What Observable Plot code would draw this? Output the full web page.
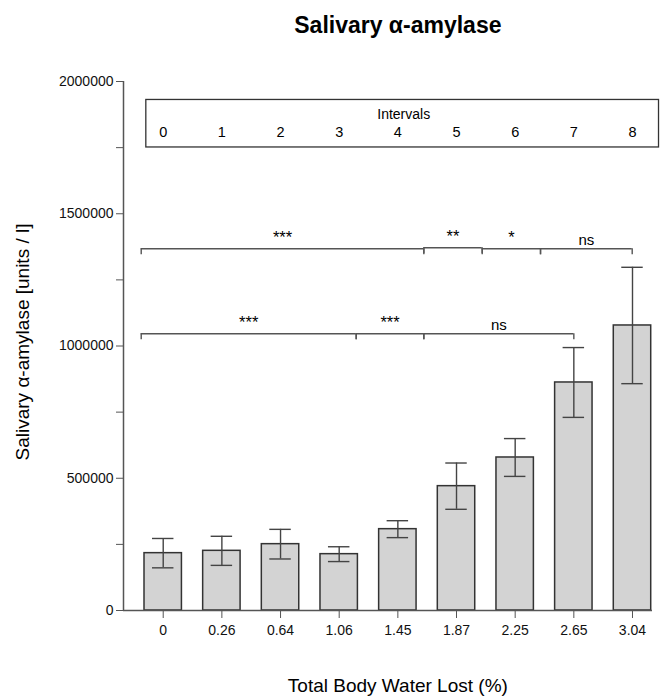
<!DOCTYPE html>
<html><head><meta charset="utf-8">
<script src="https://cdn.jsdelivr.net/npm/d3@7"></script>
<script src="https://cdn.jsdelivr.net/npm/@observablehq/plot@0.6"></script>
<style>
body{margin:0;background:#fff;}
</style>
</head><body><div id="chart"></div>
<script>
// ---- data ----
const waterLost = ["0", "0.26", "0.64", "1.06", "1.45", "1.87", "2.25", "2.65", "3.04"];
const amylaseMean = [216800, 225600, 250800, 213000, 307500, 470100, 578500, 862100, 1077600];
const amylaseErr = [55500, 55000, 56000, 28000, 32000, 87500, 71500, 132000, 220000];
const intervalLabels = ["0", "1", "2", "3", "4", "5", "6", "7", "8"];
const yTicks = [0, 500000, 1000000, 1500000, 2000000];
const yMinorTicks = [250000, 750000, 1250000, 1750000];
// significance brackets (bar-index units)
const bracketFrom = [-0.375, 4.443, 5.438, 6.432, -0.375, 3.29, 4.443];
const bracketTo = [4.443, 5.438, 6.432, 7.995, 3.29, 4.443, 7.0];
const bracketLevel = [1367600, 1371400, 1367600, 1367600, 1046200, 1046200, 1046200];
const bracketLabel = ["***", "**", "*", "ns", "***", "***", "ns"];

const bars = waterLost.map((w, i) => ({i, w, mean: amylaseMean[i], err: amylaseErr[i]}));
const brackets = bracketFrom.map((f, k) => ({from: f, to: bracketTo[k], level: bracketLevel[k], label: bracketLabel[k]}));
const bracketEnds = brackets.flatMap(b => [{x: b.from, level: b.level}, {x: b.to, level: b.level}]);

const halfBar = 0.319, halfCap = 0.183, bracketDrop = 22700;
const xDomain = [-0.677, 8.341];
const axisColor = "#555";

const chart = Plot.plot({
  width: 661,
  height: 698,
  marginLeft: 123,
  marginRight: 9,
  marginTop: 81,
  marginBottom: 88,
  style: {fontFamily: "'Liberation Sans', Arial, sans-serif", fontSize: "14px", background: "#fff", color: "#000"},
  x: {type: "linear", domain: xDomain, axis: null},
  y: {domain: [0, 2000000], axis: null},
  marks: [
    // intervals box
    Plot.rect([0], {x1: -0.288, x2: 8.452, y1: 1750600, y2: 1930200, fill: "white", stroke: "#333", strokeWidth: 1.3}),
    Plot.text(["Intervals"], {x: 4.1, y: 1876000, fontSize: 14, fill: "#000"}),
    Plot.text(intervalLabels, {x: (d, i) => i, y: 1806000, fontSize: 14.5, fill: "#000"}),
    // bars
    Plot.rect(bars, {x1: d => d.i - halfBar, x2: d => d.i + halfBar, y1: 0, y2: "mean", fill: "#d3d3d3", stroke: "#333", strokeWidth: 1.5}),
    // error bars
    Plot.ruleX(bars, {x: "i", y1: d => d.mean - d.err, y2: d => d.mean + d.err, stroke: "#444", strokeWidth: 1.4}),
    Plot.ruleY(bars, {y: d => d.mean + d.err, x1: d => d.i - halfCap, x2: d => d.i + halfCap, stroke: "#444", strokeWidth: 1.4}),
    Plot.ruleY(bars, {y: d => d.mean - d.err, x1: d => d.i - halfCap, x2: d => d.i + halfCap, stroke: "#444", strokeWidth: 1.4}),
    // brackets
    Plot.ruleY(brackets, {y: "level", x1: "from", x2: "to", stroke: "#555", strokeWidth: 1.4}),
    Plot.ruleX(bracketEnds, {x: "x", y1: "level", y2: d => d.level - bracketDrop, stroke: "#555", strokeWidth: 1.4}),
    Plot.text(brackets.filter(b => b.label !== "ns"), {x: d => (d.from + d.to) / 2, y: "level", text: "label", lineAnchor: "bottom", dy: -6, fontSize: 16.5, fill: "#000"}),
    Plot.text(brackets.filter(b => b.label === "ns"), {x: d => (d.from + d.to) / 2, y: "level", text: "label", lineAnchor: "bottom", dy: -4, fontSize: 15, fill: "#000"}),
    // axes
    Plot.ruleX([xDomain[0]], {stroke: axisColor, strokeWidth: 1.5}),
    Plot.ruleY([0], {stroke: axisColor, strokeWidth: 1.5}),
    Plot.axisY({ticks: yTicks, tickSize: 7, tickPadding: 3, tickFormat: d => String(d), label: null, stroke: axisColor, fill: "#111", fontSize: 14}),
    Plot.axisY({ticks: yMinorTicks, tickSize: 7, tickFormat: () => "", label: null, stroke: axisColor}),
    Plot.axisX({ticks: d3.range(waterLost.length), tickSize: 8, tickPadding: 7, tickFormat: i => waterLost[i], label: null, stroke: axisColor, fill: "#111", fontSize: 14}),
    // titles
    Plot.text(["Salivary α-amylase"], {x: 4, frameAnchor: "top", dy: -49, lineAnchor: "bottom", fontSize: 23, fontWeight: "bold", fill: "#000"}),
    Plot.text(["Total Body Water Lost (%)"], {x: 4, frameAnchor: "bottom", dy: 81, lineAnchor: "bottom", fontSize: 19, fill: "#000"}),
    Plot.text(["Salivary α-amylase [units / l]"], {frameAnchor: "left", dx: -101, dy: -4, rotate: -90, textAnchor: "middle", lineAnchor: "middle", fontSize: 19, fill: "#000"})
  ]
});
document.getElementById("chart").appendChild(chart);
</script>
</body></html>
